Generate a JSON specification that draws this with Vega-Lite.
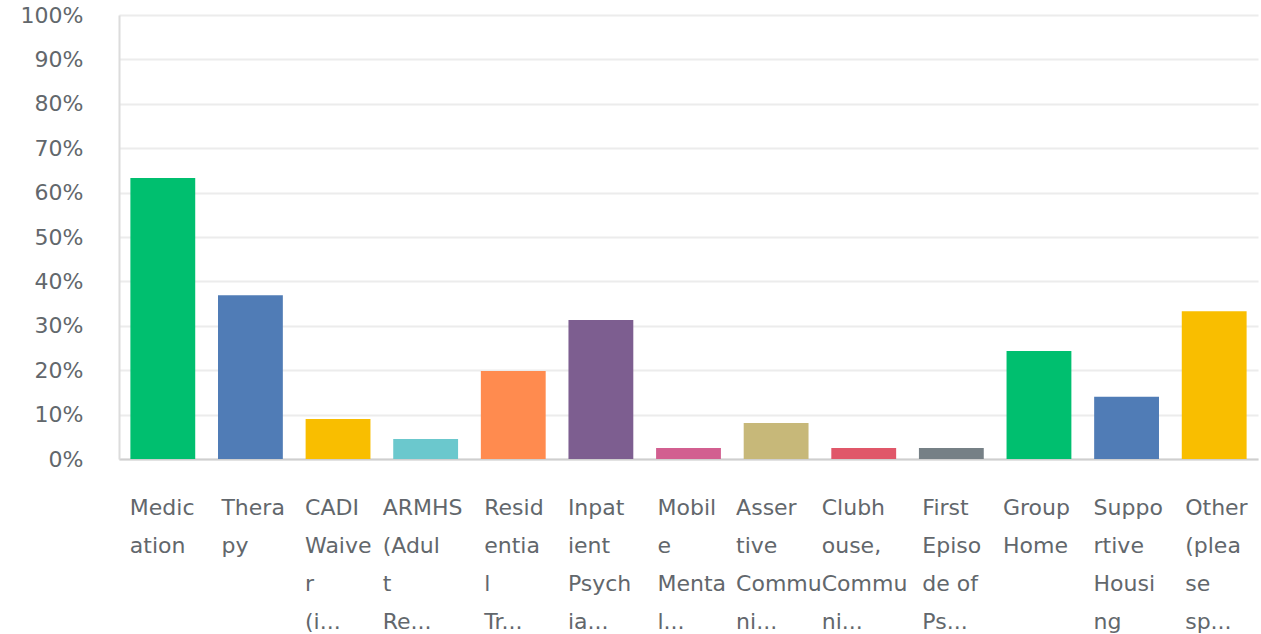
{
  "$schema": "https://vega.github.io/schema/vega-lite/v6.json",
  "autosize": {"type": "none"},
  "width": 1139,
  "height": 444,
  "padding": {"left": 119, "top": 15, "right": 3, "bottom": 175},
  "background": "white",
  "data": {
    "values": [
      {"label": "Medic|ation", "pct": 0.633},
      {"label": "Thera|py", "pct": 0.369},
      {"label": "CADI|Waive|r|(i...", "pct": 0.09},
      {"label": "ARMHS|(Adul|t|Re...", "pct": 0.045},
      {"label": "Resid|entia|l|Tr...", "pct": 0.198},
      {"label": "Inpat|ient|Psych|ia...", "pct": 0.313},
      {"label": "Mobil|e|Menta|l...", "pct": 0.025},
      {"label": "Asser|tive|Commu|ni...", "pct": 0.081},
      {"label": "Clubh|ouse,|Commu|ni...", "pct": 0.025},
      {"label": "First|Episo|de of|Ps...", "pct": 0.025},
      {"label": "Group|Home", "pct": 0.243},
      {"label": "Suppo|rtive|Housi|ng", "pct": 0.14},
      {"label": "Other|(plea|se|sp...", "pct": 0.333}
    ]
  },
  "mark": {"type": "bar"},
  "encoding": {
    "x": {
      "field": "label",
      "type": "nominal",
      "sort": null,
      "scale": {"paddingInner": 0.26, "paddingOuter": 0.13},
      "axis": {
        "title": null,
        "labelAngle": 0,
        "labelAlign": "left",
        "labelBaseline": "middle",
        "labelOffset": {
          "condition": [
            {"test": "indexof(['Thera|py','Resid|entia|l|Tr...','First|Episo|de of|Ps...','Other|(plea|se|sp...'], datum.value) >= 0", "value": -29},
            {"test": "datum.value === 'ARMHS|(Adul|t|Re...'", "value": -43},
            {"test": "datum.value === 'Clubh|ouse,|Commu|ni...'", "value": -42},
            {"test": "datum.value === 'Asser|tive|Commu|ni...'", "value": -40},
            {"test": "datum.value === 'Mobil|e|Menta|l...'", "value": -31},
            {"test": "datum.value === 'Group|Home'", "value": -36}
          ],
          "value": -33
        },
        "labelPadding": 48,
        "labelLineHeight": 38,
        "labelFont": "DejaVu Sans",
        "labelFontSize": 22,
        "labelColor": "#62676c",
        "labelLimit": 0,
        "labelOverlap": false,
        "labelExpr": "split(datum.label, '|')",
        "ticks": false,
        "domainColor": "#cfcfcf",
        "domainWidth": 2,
        "grid": false
      }
    },
    "y": {
      "field": "pct",
      "type": "quantitative",
      "scale": {"domain": [0, 1]},
      "axis": {
        "title": null,
        "values": [0, 0.1, 0.2, 0.3, 0.4, 0.5, 0.6, 0.7, 0.8, 0.9, 1],
        "format": ".0%",
        "labelFont": "DejaVu Sans",
        "labelFontSize": 22,
        "labelColor": "#62676c",
        "labelPadding": 36,
        "ticks": false,
        "domainColor": "#dcdcdc",
        "domainWidth": 2,
        "gridColor": "#ececec",
        "gridWidth": 2
      }
    },
    "color": {
      "field": "label",
      "type": "nominal",
      "sort": null,
      "legend": null,
      "scale": {
        "range": ["#00BF6F", "#507CB6", "#F9BE00", "#6BC8CD", "#FF8B4F", "#7D5E90", "#D25F90", "#C7B879", "#E05769", "#768086", "#00BF6F", "#507CB6", "#F9BE00"]
      }
    }
  },
  "config": {"view": {"stroke": null}}
}
